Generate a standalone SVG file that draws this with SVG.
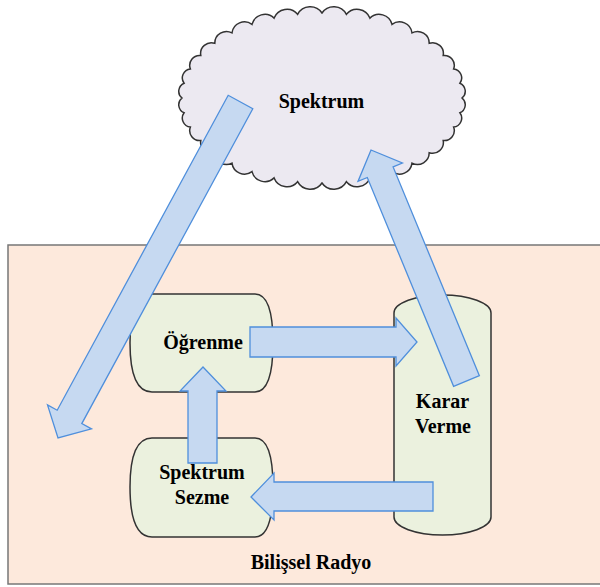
<svg xmlns="http://www.w3.org/2000/svg" width="600" height="587" viewBox="0 0 600 587">
<style>
.lbl{font-family:"Liberation Serif","Times New Roman",serif;font-weight:bold;font-size:20px;fill:#000;text-anchor:middle}
.box{fill:#ebf1de;stroke:#333;stroke-width:1.5}
.arr{fill:#c6d9f1;stroke:#4f8fdc;stroke-width:1.3;stroke-linejoin:miter}
</style>
<rect width="600" height="587" fill="#fff"/>
<g id="bilissel-radyo">
<rect x="8" y="245" width="600" height="339" fill="#fde9dc" stroke="#777" stroke-width="1.5"/>
<text class="lbl" x="311" y="569">Bilişsel Radyo</text>
</g>
<g id="spektrum">
<path d="M182,98 A8.7,8.7 0 0 1 184.1,83.2 A9,9 0 0 1 190.4,68.9 A9.9,9.9 0 0 1 200.8,55.5 A10.8,10.8 0 0 1 214.8,43.3 A11.7,11.7 0 0 1 232,32.9 A12.6,12.6 0 0 1 252,24.4 A13.3,13.3 0 0 1 274.1,18.1 A13.8,13.8 0 0 1 297.6,14.3 A14.2,14.2 0 0 1 322,13 A14.2,14.2 0 0 1 346.4,14.3 A13.8,13.8 0 0 1 369.9,18.1 A13.3,13.3 0 0 1 392,24.4 A12.6,12.6 0 0 1 412,32.9 A11.7,11.7 0 0 1 429.2,43.3 A10.8,10.8 0 0 1 443.2,55.5 A9.9,9.9 0 0 1 453.6,68.9 A9,9 0 0 1 459.9,83.2 A8.7,8.7 0 0 1 462,98 A8.7,8.7 0 0 1 459.9,112.8 A9,9 0 0 1 453.6,127.1 A9.9,9.9 0 0 1 443.2,140.5 A10.8,10.8 0 0 1 429.2,152.7 A11.7,11.7 0 0 1 412,163.1 A12.6,12.6 0 0 1 392,171.6 A13.3,13.3 0 0 1 369.9,177.9 A13.8,13.8 0 0 1 346.4,181.7 A14.2,14.2 0 0 1 322,183 A14.2,14.2 0 0 1 297.6,181.7 A13.8,13.8 0 0 1 274.1,177.9 A13.3,13.3 0 0 1 252,171.6 A12.6,12.6 0 0 1 232,163.1 A11.7,11.7 0 0 1 214.8,152.7 A10.8,10.8 0 0 1 200.8,140.5 A9.9,9.9 0 0 1 190.4,127.1 A9,9 0 0 1 184.1,112.8 A8.7,8.7 0 0 1 182,98 Z" fill="#ece9f1" stroke="#333" stroke-width="1.5"/>
<text class="lbl" x="321.5" y="108">Spektrum</text>
</g>
<g id="ogrenme">
<path class="box" d="M152,294 H255 C268,294 273,312 273,343 C273,374 268,392 255,392 H152 C136,392 130,374 130,343 C130,312 136,294 152,294 Z"/>
<text class="lbl" x="203" y="349">Öğrenme</text>
</g>
<g id="spektrum-sezme">
<path class="box" d="M152,438 H255 C268,438 273,457 273,487 C273,518 268,537 255,537 H152 C136,537 130,518 130,487 C130,457 136,438 152,438 Z"/>
<text class="lbl" x="202" y="479">Spektrum</text>
<text class="lbl" x="202" y="504">Sezme</text>
</g>
<g id="karar-verme">
<path class="box" d="M394,313 A48.5,18 0 0 1 491,313 V517 A48.5,18 0 0 1 394,517 Z"/>
<text class="lbl" x="442.5" y="408">Karar</text>
<text class="lbl" x="443" y="433">Verme</text>
</g>
<g id="connectors">
<polygon class="arr" points="252.8,108.7 81.8,423.6 91.5,428.9 58,438 47.5,404.9 57.2,410.2 228.2,95.3"/>
<polygon class="arr" points="479.4,375.7 393.1,166.9 402.4,163 371,150 358,181.4 367.3,177.5 453.6,386.3"/>
<polygon class="arr" points="250,327 396,327 396,318 417,342 396,366 396,357 250,357"/>
<polygon class="arr" points="433,482 274,482 274,473 251,497 274,520 274,511 433,511"/>
<polygon class="arr" points="188,463 188,391 180,391 203,367 226,391 217,391 217,463"/>
</g>
</svg>
